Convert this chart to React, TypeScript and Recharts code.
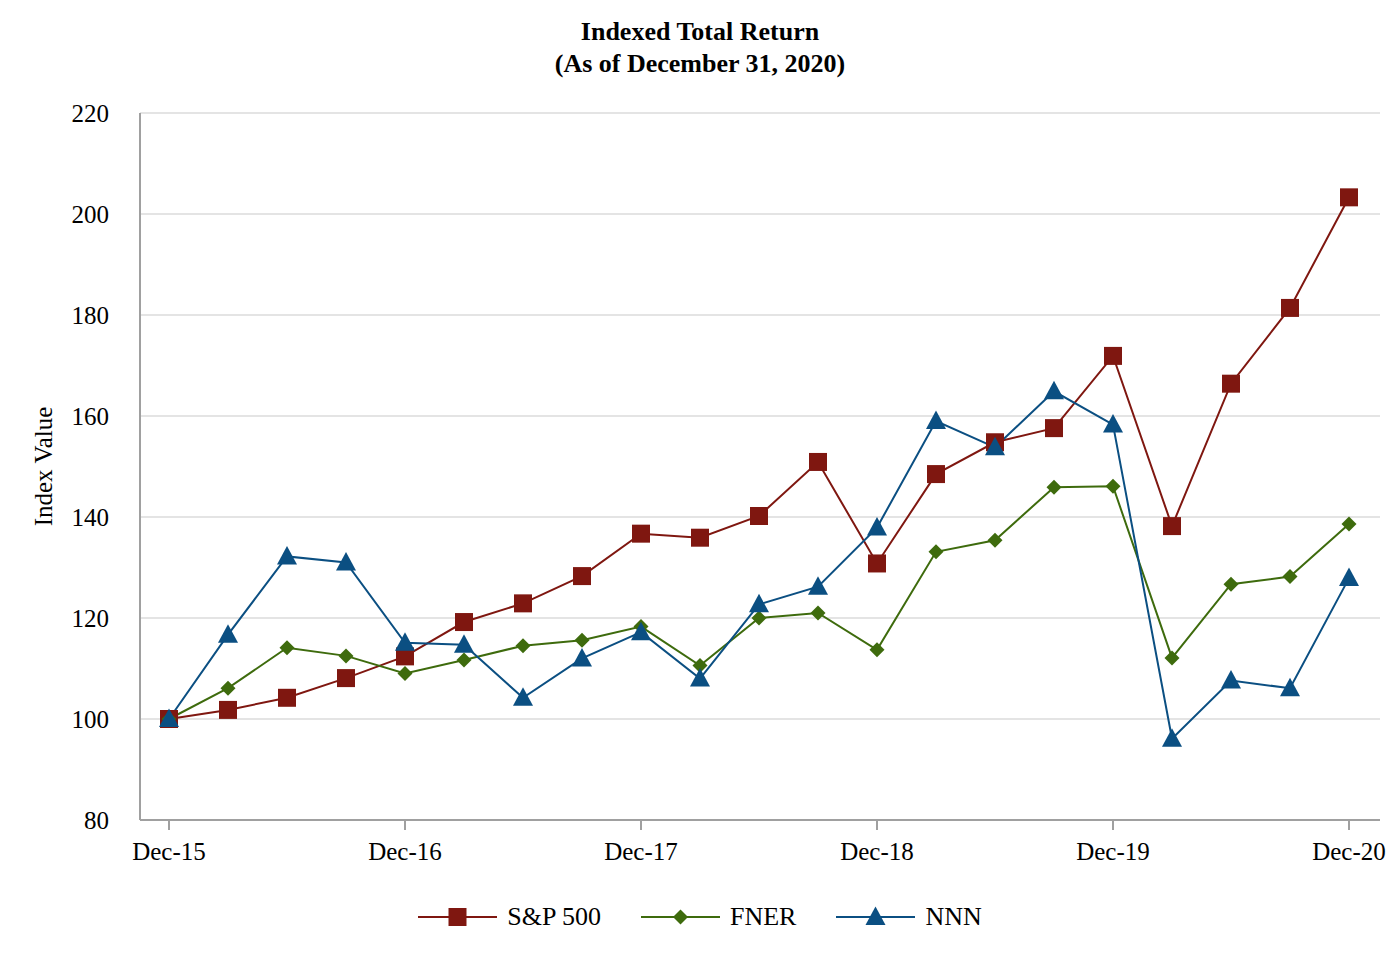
import React from 'react';
import { LineChart, Line, XAxis, YAxis, CartesianGrid, Legend } from 'recharts';

const quarters = ['Dec-15','Mar-16','Jun-16','Sep-16','Dec-16','Mar-17','Jun-17','Sep-17','Dec-17','Mar-18','Jun-18','Sep-18','Dec-18','Mar-19','Jun-19','Sep-19','Dec-19','Mar-20','Jun-20','Sep-20','Dec-20'];
const sp500 = [100,101.8,104.2,108.1,112.4,119.2,122.9,128.3,136.7,135.9,140.2,150.9,130.8,148.5,154.8,157.6,171.9,138.2,166.4,181.4,203.3];
const fner = [100,106.1,114.1,112.5,109.0,111.7,114.5,115.6,118.3,110.6,120.0,121.0,113.7,133.1,135.4,145.9,146.1,112.1,126.7,128.2,138.6];
const nnn = [100,116.7,132.2,131.0,115.1,114.7,104.2,112.0,117.2,108.0,122.7,126.2,137.9,159.0,153.8,164.9,158.3,96.1,107.6,106.1,127.9];
const yTicks = [80,100,120,140,160,180,200,220];

const seriesNames = ['S&P 500', 'FNER', 'NNN'];
const seriesColors = ['#7F1710', '#3E6B0D', '#0B4F82'];
const seriesShapes = ['square', 'diamond', 'triangle'];

const data = quarters.map((q, i) => ({ q, sp: sp500[i], fner: fner[i], nnn: nnn[i] }));

const FONT = '"Liberation Serif", "Times New Roman", serif';
const AXIS_GRAY = '#a0a0a0';

function markerPath(shape: string, cx: number, cy: number): string {
  if (shape === 'square') {
    const h = 9;
    return `M${cx - h},${cy - h}H${cx + h}V${cy + h}H${cx - h}Z`;
  }
  if (shape === 'diamond') {
    const h = 7.5;
    return `M${cx},${cy - h}L${cx + h},${cy}L${cx},${cy + h}L${cx - h},${cy}Z`;
  }
  return `M${cx},${cy - 10.5}L${cx + 10},${cy + 8}L${cx - 10},${cy + 8}Z`;
}

const makeDot = (shape: string, color: string) => (props: any) => {
  const { cx, cy, index } = props;
  if (cx == null || cy == null) return <g key={`d-${shape}-${index}`} />;
  return <path key={`d-${shape}-${index}`} d={markerPath(shape, cx, cy)} fill={color} stroke="none" />;
};

const LegendContent = () => (
  <div
    style={{
      display: 'flex',
      justifyContent: 'center',
      alignItems: 'center',
      height: 40,
      fontFamily: FONT,
      fontSize: 26,
      color: '#000',
    }}
  >
    {seriesNames.map((name, i) => (
      <div key={name} style={{ display: 'flex', alignItems: 'center', marginLeft: i === 0 ? 0 : 40 }}>
        <svg width={79} height={30} style={{ display: 'block' }}>
          <line x1={0} y1={15} x2={79} y2={15} stroke={seriesColors[i]} strokeWidth={2} />
          <path d={markerPath(seriesShapes[i], 39.5, 15)} fill={seriesColors[i]} />
        </svg>
        <span style={{ marginLeft: 10, lineHeight: '30px' }}>{name}</span>
      </div>
    ))}
  </div>
);

const YLabel = (props: any) => {
  const vb = props.viewBox || {};
  const cy = (vb.y || 0) + (vb.height || 0) / 2;
  const cx = 43;
  return (
    <text
      x={cx}
      y={cy}
      transform={`rotate(-90, ${cx}, ${cy})`}
      textAnchor="middle"
      dominantBaseline="central"
      fontFamily={FONT}
      fontSize={25}
      fill="#000"
    >
      Index Value
    </text>
  );
};

export default function App() {
  return (
    <div style={{ position: 'absolute', left: 0, top: 0, width: 1400, height: 960, background: '#fff' }}>
      <div
        style={{
          position: 'absolute',
          left: 0,
          top: 16,
          width: 1400,
          textAlign: 'center',
          fontFamily: FONT,
          fontWeight: 'bold',
          fontSize: 26,
          lineHeight: '32px',
          color: '#000',
          zIndex: 2,
        }}
      >
        <div>Indexed Total Return</div>
        <div>(As of December 31, 2020)</div>
      </div>
      <LineChart
        width={1400}
        height={960}
        data={data}
        margin={{ top: 113, right: 20, bottom: 23, left: 0 }}
      >
        <CartesianGrid vertical={false} stroke="#e4e4e4" strokeWidth={2} />
        <XAxis
          dataKey="q"
          interval={3}
          padding={{ left: 29, right: 31 }}
          height={77}
          tickSize={10}
          tickMargin={12}
          axisLine={{ stroke: AXIS_GRAY, strokeWidth: 2 }}
          tickLine={{ stroke: AXIS_GRAY, strokeWidth: 2 }}
          tick={{ fill: '#000', fontFamily: FONT, fontSize: 25 }}
        />
        <YAxis
          domain={[80, 220]}
          ticks={yTicks}
          width={140}
          tickLine={false}
          tickSize={0}
          tickMargin={31}
          axisLine={{ stroke: AXIS_GRAY, strokeWidth: 2 }}
          tick={{ fill: '#000', fontFamily: FONT, fontSize: 25 }}
          label={<YLabel />}
        />
        <Legend
          verticalAlign="bottom"
          height={40}
          wrapperStyle={{ left: 0, width: 1400 }}
          content={<LegendContent />}
        />
        <Line
          dataKey="sp"
          name={seriesNames[0]}
          stroke={seriesColors[0]}
          strokeWidth={2}
          dot={makeDot(seriesShapes[0], seriesColors[0])}
          activeDot={false}
          isAnimationActive={false}
        />
        <Line
          dataKey="fner"
          name={seriesNames[1]}
          stroke={seriesColors[1]}
          strokeWidth={2}
          dot={makeDot(seriesShapes[1], seriesColors[1])}
          activeDot={false}
          isAnimationActive={false}
        />
        <Line
          dataKey="nnn"
          name={seriesNames[2]}
          stroke={seriesColors[2]}
          strokeWidth={2}
          dot={makeDot(seriesShapes[2], seriesColors[2])}
          activeDot={false}
          isAnimationActive={false}
        />
      </LineChart>
    </div>
  );
}
